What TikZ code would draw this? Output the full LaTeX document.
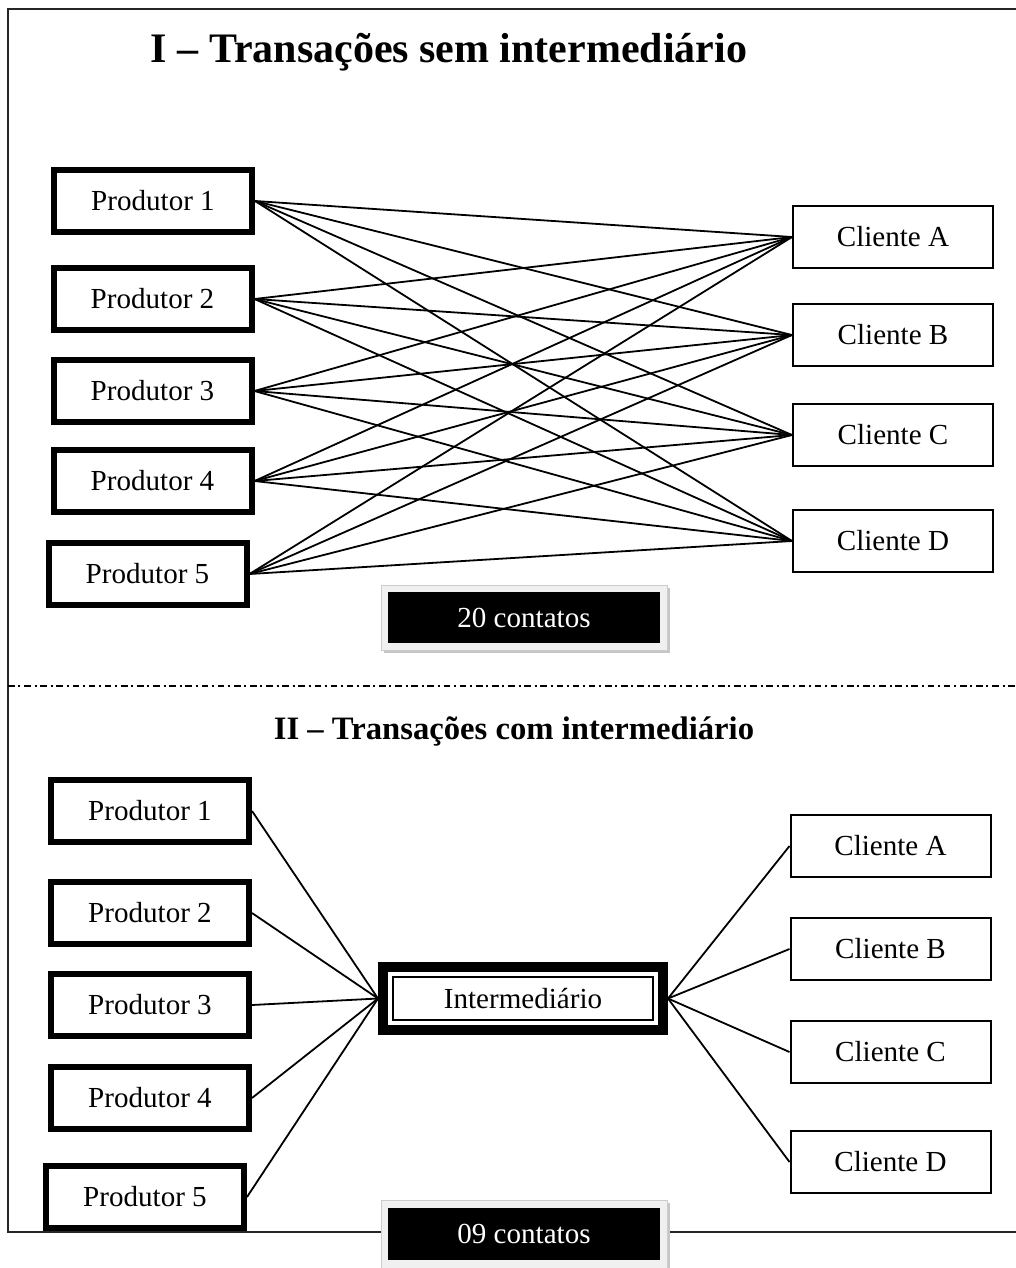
\documentclass[tikz,border=0pt]{standalone}
\usepackage{fontspec}
\setmainfont{Liberation Serif}
\begin{document}
\begin{tikzpicture}[x=0.75pt,y=-0.75pt,
  txt/.style={font=\fontsize{21.8}{25}\selectfont},
  ttl/.style={font=\fontsize{24.5}{29}\selectfont\bfseries},
  ttlbig/.style={font=\fontsize{31.5}{36}\selectfont\bfseries},
  prod/.style={draw, line width=4.5pt, minimum width=148.5pt, minimum height=46.5pt, inner sep=0pt, txt},
  cli/.style={draw, line width=1.5pt, minimum width=150pt, minimum height=46.5pt, inner sep=0pt, txt},
  link/.style={line width=1.35pt},
  blackbox/.style={fill=black, text=white, minimum width=204pt, minimum height=38.5pt, inner sep=0pt, txt},
  lightframe/.style={fill=gray!12, draw=gray!40, line width=0.5pt, minimum width=214.5pt, minimum height=48.75pt, inner sep=0pt}
]
\useasboundingbox (0,0) rectangle (1016,1268);

% outer frame
\draw[line width=1.6pt, black!85] (1030,9) -- (8,9) -- (8,1232) -- (1030,1232);
% separator
\draw[line width=1.3pt, dash pattern=on 5pt off 2.8pt on 1.5pt off 2.8pt] (8,686) -- (1016,686);

% ---------- Part I ----------
\node[ttlbig] (t1) at (449,52) {I – Transações sem intermediário};

\node[prod] (p1) at (153,201) {Produtor 1};
\node[prod] (p2) at (152.5,299) {Produtor 2};
\node[prod] (p3) at (152.5,391) {Produtor 3};
\node[prod] (p4) at (152.5,481) {Produtor 4};
\node[prod] (p5) at (147.5,574) {Produtor 5};

\node[cli] (ca) at (893,237) {Cliente A};
\node[cli] (cb) at (893,335) {Cliente B};
\node[cli] (cc) at (893,435) {Cliente C};
\node[cli] (cd) at (893,541) {Cliente D};

\foreach \p in {p1,p2,p3,p4,p5}{
  \foreach \c in {ca,cb,cc,cd}{
    \draw[link] (\p.east) -- (\c.west);
  }
}

% 20 contatos
\fill[gray!45] (384,588) rectangle (670,653);
\node[lightframe] (f20) at (524,617.5) {};
\node[blackbox] (k20) at (524,617.5) {20 contatos};

% ---------- Part II ----------
\node[ttl] (t2) at (514,731) {II – Transações com intermediário};

\node[prod] (q1) at (150,811) {Produtor 1};
\node[prod] (q2) at (150,913) {Produtor 2};
\node[prod] (q3) at (150,1005) {Produtor 3};
\node[prod] (q4) at (150,1098) {Produtor 4};
\node[prod] (q5) at (145,1197) {Produtor 5};

\node[draw, line width=7.5pt, minimum width=210pt, minimum height=47.25pt, inner sep=0pt, txt] (im) at (523,998.5) {Intermediário};
\draw[line width=1.5pt] ([shift={(15,15)}]im.north west) rectangle ([shift={(-15,-15)}]im.south east);

\node[cli] (da) at (890.5,846) {Cliente A};
\node[cli] (db) at (890.5,949) {Cliente B};
\node[cli] (dc) at (890.5,1052) {Cliente C};
\node[cli] (dd) at (890.5,1162) {Cliente D};

\foreach \p in {q1,q2,q3,q4,q5}{
  \draw[link] (\p.east) -- (im.west);
}
\foreach \c in {da,db,dc,dd}{
  \draw[link] (im.east) -- (\c.west);
}

% 09 contatos
\fill[gray!45] (384,1203) rectangle (670,1270);
\node[lightframe, minimum height=51pt] (f09) at (524,1234) {};
\node[blackbox] (k09) at (524,1234) {09 contatos};
\end{tikzpicture}
\end{document}
